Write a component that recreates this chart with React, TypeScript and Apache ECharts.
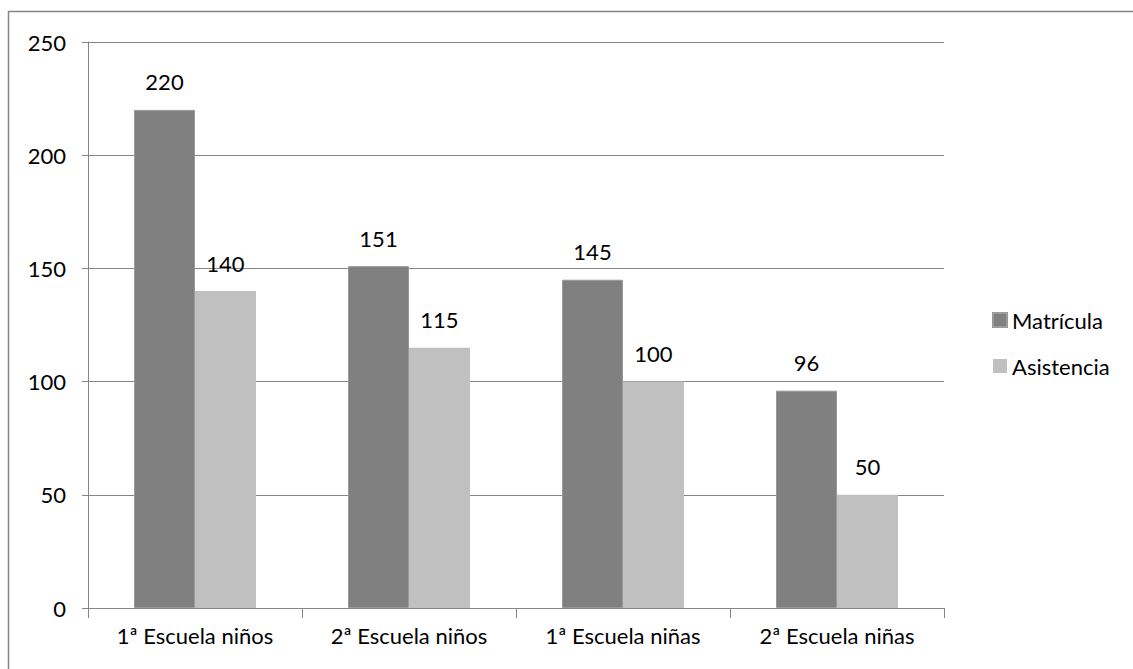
import React, { useEffect, useRef } from "react";
import * as echarts from "echarts";

const categories = ["1ª Escuela niños", "2ª Escuela niños", "1ª Escuela niñas", "2ª Escuela niñas"];
const matricula = [220, 151, 145, 96];
const asistencia = [140, 115, 100, 50];
const seriesNames = ["Matrícula", "Asistencia"];

export default function App() {
  const ref = useRef<HTMLDivElement>(null);
  useEffect(() => {
    const chart = echarts.init(ref.current!, null, { renderer: "svg" });
    const font = "Lato, 'Open Sans', sans-serif";
    const label = {
      show: true,
      position: "top",
      distance: 17,
      color: "#000",
      fontSize: 22,
      fontFamily: font,
    };
    chart.setOption({
      animation: false,
      backgroundColor: "#fff",
      graphic: [
        {
          type: "rect",
          shape: { x: 8.5, y: 11.5, width: 1140, height: 700 },
          style: { fill: "none", stroke: "#868686", lineWidth: 1.5 },
          silent: true,
        },
      ],
      grid: { left: 88, right: 189, top: 42, bottom: 61 },
      legend: {
        orient: "vertical",
        left: 987,
        top: 304,
        itemWidth: 14,
        itemHeight: 14,
        itemGap: 24,
        icon: "rect",
        data: seriesNames,
        textStyle: { fontSize: 22, fontFamily: font, color: "#000" },
      },
      xAxis: {
        type: "category",
        data: categories,
        axisLine: { lineStyle: { color: "#868686", width: 1 } },
        axisTick: { show: true, length: 10, lineStyle: { color: "#868686" } },
        axisLabel: { fontSize: 22, fontFamily: font, color: "#000", margin: 16 },
      },
      yAxis: {
        type: "value",
        min: 0,
        max: 250,
        interval: 50,
        axisLine: { show: true, lineStyle: { color: "#868686" } },
        axisTick: { show: true, inside: false, length: 6, lineStyle: { color: "#868686" } },
        axisLabel: { fontSize: 22, fontFamily: font, color: "#000", margin: 22 },
        splitLine: { show: true, lineStyle: { color: "#868686", width: 1 } },
      },
      series: [
        {
          name: seriesNames[0],
          type: "bar",
          data: matricula,
          barGap: "0%",
          barCategoryGap: "43%",
          itemStyle: { color: "#808080", borderColor: "#999999", borderWidth: 1 },
          label,
        },
        {
          name: seriesNames[1],
          type: "bar",
          data: asistencia,
          itemStyle: { color: "#C0C0C0" },
          label,
        },
      ],
    });
    return () => chart.dispose();
  }, []);
  return <div ref={ref} style={{ width: 1133, height: 669, position: "absolute", left: 0, top: 0 }} />;
}
